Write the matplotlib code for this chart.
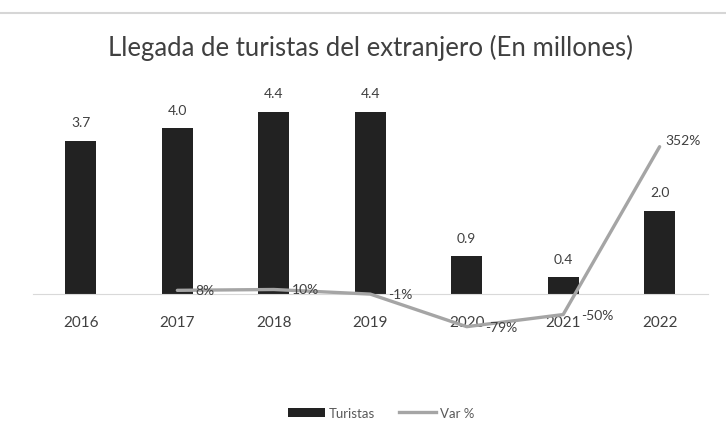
import numpy as np
import matplotlib.pyplot as plt
from matplotlib.lines import Line2D

years = ["2016", "2017", "2018", "2019", "2020", "2021", "2022"]
turistas = [3.7, 4.0, 4.4, 4.4, 0.9, 0.4, 2.0]
var_pct = [np.nan, 8, 10, -1, -79, -50, 352]
var_labels = ["", "8%", "10%", "-1%", "-79%", "-50%", "352%"]

plt.rcParams['font.family'] = ['Lato', 'DejaVu Sans']

fig = plt.figure(figsize=(7.26, 4.39), dpi=100)
ax = fig.add_axes([0.045, 0.2346, 0.93, 0.565])
x = np.arange(len(years))

bars = ax.bar(x, turistas, width=0.32, color='#222222', label='Turistas', zorder=2)
for xi, v in zip(x, turistas):
    ax.annotate(f"{v:.1f}", (xi, v), xytext=(0, 9), textcoords='offset points',
                ha='center', va='bottom', fontsize=10, color='#404040')

ax.set_xlim(-0.5, len(years) - 0.5)
ax.set_ylim(-1.0, 5.0)
ax.set_yticks([])
for s in ['top', 'left', 'right']:
    ax.spines[s].set_visible(False)
ax.spines['bottom'].set_position(('data', 0))
ax.spines['bottom'].set_color('#d9d9d9')
ax.set_xticks(x)
ax.set_xticklabels(years, fontsize=11, color='#404040')
ax.tick_params(axis='x', length=0, pad=15)

ax2 = ax.twinx()
ax2.set_ylim(-99, 495)
ax2.plot(x, var_pct, color='#a5a5a5', lw=2.4, zorder=3, solid_capstyle='round')
for i, (xi, v, lab) in enumerate(zip(x, var_pct, var_labels)):
    if not lab:
        continue
    off = (4, 5) if i == len(x) - 1 else (13, 0)
    ax2.annotate(lab, (xi, v), xytext=off, textcoords='offset points',
                 ha='left', va='center', fontsize=10, color='#404040', zorder=5)
ax2.set_yticks([])
for s in ax2.spines.values():
    s.set_visible(False)

fig.text(0.51, 0.89, "Llegada de turistas del extranjero (En millones)",
         ha='center', va='center', fontsize=18.5, color='#404040')

fig.add_artist(Line2D([0.0, 1.0], [0.968, 0.968], color='#d6d6d6', lw=1.5))

handles = [bars, Line2D([], [], color='#a5a5a5', lw=2.4)]
fig.legend(handles, ['Turistas', 'Var %'], loc='center', bbox_to_anchor=(0.525, 0.057),
           ncol=2, frameon=False, fontsize=9.5, handlelength=2.8, handletextpad=0.3,
           columnspacing=1.8, labelcolor='#595959')

fig.savefig("out.png", dpi=100)
